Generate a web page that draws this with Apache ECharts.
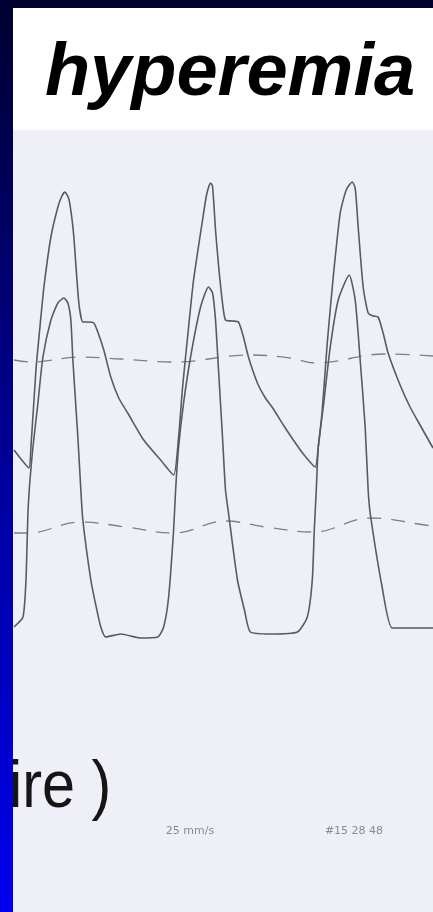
<!DOCTYPE html>
<html>
<head>
<meta charset="utf-8">
<script src="https://cdn.jsdelivr.net/npm/echarts@6.0.0/dist/echarts.min.js"></script>
<style>
  html, body { margin: 0; padding: 0; background: #eeeff7; }
  #chart { width: 433px; height: 912px; }
</style>
</head>
<body>
<div id="chart"></div>
<script>
  // pressure tracings: [time ms, pressure mmHg]
  var aorticTrace = [
    [7, 76.0], [56, 72.4], [112, 68.8], [126, 77.2], [161, 108.0], [189, 125.2], [217, 141.2],
    [266, 161.2], [315, 173.2], [343, 177.6], [364, 179.2], [392, 176.4], [413, 168.8], [427, 161.2],
    [462, 134.8], [490, 127.2], [525, 127.2], [567, 126.8], [595, 123.2], [637, 116.0], [686, 105.2],
    [742, 96.8], [805, 90.8], [917, 80.0], [1036, 72.0], [1127, 66.0], [1162, 81.2], [1190, 101.2],
    [1225, 121.2], [1267, 144.0], [1330, 168.0], [1358, 178.0], [1386, 182.8], [1400, 181.6],
    [1421, 164.0], [1442, 150.0], [1470, 134.8], [1491, 128.0], [1540, 127.6], [1582, 127.2],
    [1617, 121.2], [1652, 113.2], [1715, 102.8], [1771, 96.8], [1827, 92.4], [1897, 86.0],
    [1967, 80.0], [2037, 74.4], [2121, 69.2], [2142, 77.2], [2170, 92.0], [2205, 118.8],
    [2247, 145.2], [2296, 170.8], [2338, 180.0], [2380, 183.2], [2401, 180.8], [2422, 165.2],
    [2457, 141.2], [2492, 130.8], [2527, 129.6], [2562, 129.2], [2597, 122.8], [2632, 114.8],
    [2716, 102.0], [2786, 93.2], [2856, 86.0], [2947, 76.8]
  ];
  var lvTrace = [
    [7, 5.2], [70, 9.2], [91, 24.0], [105, 50.8], [119, 64.0], [140, 77.2], [175, 94.8],
    [210, 113.2], [266, 128.0], [315, 134.8], [357, 136.8], [385, 134.8], [406, 128.0], [420, 112.0],
    [455, 81.2], [476, 60.0], [490, 48.0], [546, 24.0], [581, 14.0], [616, 5.2], [651, 1.2],
    [756, 2.4], [896, 0.8], [1015, 1.2], [1057, 5.2], [1092, 17.2], [1127, 44.0], [1141, 60.0],
    [1162, 77.2], [1197, 94.8], [1246, 113.2], [1316, 133.2], [1372, 141.2], [1400, 138.8],
    [1421, 128.0], [1442, 108.0], [1470, 81.2], [1491, 60.0], [1512, 50.8], [1575, 24.0],
    [1624, 12.0], [1666, 3.2], [1806, 2.4], [1995, 3.2], [2065, 9.2], [2100, 24.0], [2114, 44.0],
    [2128, 60.0], [2142, 77.2], [2177, 93.2], [2226, 117.2], [2282, 136.0], [2359, 146.0],
    [2401, 136.0], [2436, 112.0], [2471, 85.2], [2492, 60.0], [2506, 50.8], [2590, 21.2],
    [2660, 4.8], [2786, 4.8], [2947, 4.8]
  ];
  // mean pressure lines (dashed on the paper)
  var aorticMean = [
    [7, 112.0], [126, 111.2], [476, 113.2], [756, 112.4], [1127, 111.2], [1666, 114.0],
    [1946, 112.8], [2121, 110.8], [2611, 114.4], [2947, 113.6]
  ];
  var distalMean = [
    [7, 42.8], [105, 42.8], [476, 47.2], [791, 45.2], [1127, 42.8], [1491, 47.6],
    [1771, 45.2], [2107, 43.2], [2506, 48.8], [2891, 46.0], [2947, 45.6]
  ];
  var titleText = 'hyperemia';
  var captionText = 'ire )';
  var speedText = '25 mm/s';
  var clockText = '#15 28 48';

  var chart = echarts.init(document.getElementById('chart'));
  var traceStyle = {color: '#5a5a66', width: 1.6};
  var meanStyle = {color: '#7e7e8c', width: 1.3, type: [14, 10]};

  var option = {
    backgroundColor: '#eeeff7',
    animation: false,
    grid: {left: 13, right: 0, top: 130, bottom: 0},
    xAxis: {type: 'value', min: 0, max: 2947, show: false},
    yAxis: {type: 'value', min: -108.8, max: 204, show: false},
    graphic: [
      {type: 'rect', shape: {x: 0, y: 0, width: 433, height: 8}, style: {fill: '#00002c'}},
      {type: 'rect', shape: {x: 13, y: 8, width: 420, height: 122}, style: {fill: '#ffffff'}},
      {type: 'text', x: 230, y: 75, style: {
        text: titleText, font: 'italic bold 74px "Liberation Sans", Arial, sans-serif',
        fill: '#000', align: 'center', verticalAlign: 'middle'}},
      {type: 'text', x: 9, y: 789, scaleX: 0.9, style: {
        text: captionText, font: '66px "Liberation Sans", Arial, sans-serif',
        fill: '#151515', align: 'left', verticalAlign: 'middle'}},
      {type: 'text', x: 190, y: 831, style: {
        text: speedText, font: '11px "DejaVu Sans", sans-serif', fill: '#8a8a96',
        align: 'center', verticalAlign: 'middle'}},
      {type: 'text', x: 354, y: 831, style: {
        text: clockText, font: '11px "DejaVu Sans", sans-serif', fill: '#8a8a96',
        align: 'center', verticalAlign: 'middle'}},
      // blue slide border on the left
      {type: 'rect', shape: {x: 0, y: 0, width: 13, height: 912}, style: {
        fill: new echarts.graphic.LinearGradient(0, 0, 0, 1, [
          {offset: 0, color: '#000030'},
          {offset: 0.5, color: '#000098'},
          {offset: 1, color: '#0000ee'}
        ])}}
    ],
    series: [
      {name: 'Pa mean', type: 'line', data: distalMean, showSymbol: false, smooth: 0.4, lineStyle: meanStyle},
      {name: 'Pa mean 2', type: 'line', data: aorticMean, showSymbol: false, smooth: 0.4, lineStyle: meanStyle},
      {name: 'LV', type: 'line', data: lvTrace, showSymbol: false, smooth: 0.2, lineStyle: traceStyle},
      {name: 'Ao', type: 'line', data: aorticTrace, showSymbol: false, smooth: 0.2, lineStyle: traceStyle}
    ]
  };
  chart.setOption(option);
</script>
</body>
</html>
